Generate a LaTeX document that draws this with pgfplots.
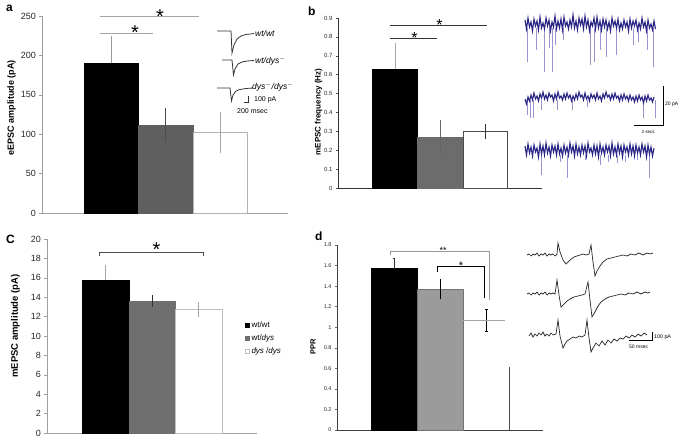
\documentclass[border=0pt]{standalone}
\usepackage{fontspec}
\setmainfont{Liberation Sans}
\usepackage{pgfplots}
\pgfplotsset{compat=1.18}

\definecolor{gA}{HTML}{5F5F5F}
\definecolor{gB}{HTML}{6C6C6C}
\definecolor{gC}{HTML}{6F6F6F}
\definecolor{gD}{HTML}{9B9B9B}
\definecolor{trB}{HTML}{2B2686}
\definecolor{spB}{HTML}{9894CF}

\newcommand\fs[1]{\fontsize{#1}{#1}\selectfont}

\pgfplotsset{
  panel/.style={scale only axis, axis x line=bottom, axis y line=left,
    axis line style={-}, xtick=\empty, tick align=outside,
    major tick length=2.5pt, clip=false,
    /pgf/number format/assume math mode=true, /pgf/number format/fixed},
  barp/.style={ybar, bar shift=0pt,
    legend image code/.code={\draw[##1, line width=0.5pt] (0pt,-2.2pt) rectangle (4.4pt,2.2pt);}},
}

\begin{document}
\begin{tikzpicture}
\useasboundingbox (0,0) rectangle (685pt,442pt);

% ---- a: eEPSC amplitude
\begin{axis}[panel, at={(42pt,229pt)}, anchor=south west,
  width=246pt, height=197pt, xmin=42, xmax=288, ymin=0, ymax=250,
  ytick={0,50,100,150,200,250},
  tick label style={font=\fs{9}, text=black!85},
  axis line style={gray!75, line width=0.6pt}, ytick style={gray!75, line width=0.5pt}]
\addplot[barp, bar width=54, fill=black, draw=black,
  error bars/.cd, y dir=plus, y explicit, error bar style={gray!80, line width=0.6pt}, error mark=none]
  coordinates {(111,190) +- (0,34)};
\addplot[barp, bar width=55, fill=gA, draw=gA,
  error bars/.cd, y dir=both, y explicit, error bar style={black!70, line width=0.6pt}, error mark=none]
  coordinates {(165.5,112) +- (0,21.5)};
\addplot[barp, bar width=54, fill=white, draw=gray!60,
  error bars/.cd, y dir=both, y explicit, error bar style={gray!70, line width=0.6pt}, error mark=none]
  coordinates {(220,102) +- (0,26)};
\end{axis}

% ---- b: mEPSC frequency
\begin{axis}[panel, at={(338pt,254pt)}, anchor=south west,
  width=204pt, height=170pt, xmin=338, xmax=542, ymin=0, ymax=0.9,
  ytick={0,0.1,0.2,0.3,0.4,0.5,0.6,0.7,0.8,0.9},
  tick label style={font=\fs{6}, text=black!85},
  axis line style={black!80, line width=0.6pt}, ytick style={black!70, line width=0.4pt},
  major tick length=2pt]
\addplot[barp, bar width=45, fill=black, draw=black,
  error bars/.cd, y dir=plus, y explicit, error bar style={gray!70, line width=0.5pt}, error mark=none]
  coordinates {(395,0.63) +- (0,0.14)};
\addplot[barp, bar width=46, fill=gB, draw=gB,
  error bars/.cd, y dir=both, y explicit, error bar style={black!60, line width=0.5pt}, error mark=none]
  coordinates {(440,0.27) +- (0,0.09)};
\addplot[barp, bar width=44, fill=white, draw=black!70,
  error bars/.cd, y dir=both, y explicit, error bar style={black!80, line width=0.6pt}, error mark=none]
  coordinates {(485,0.30) +- (0,0.04)};
\end{axis}

% ---- c: mEPSC amplitude
\begin{axis}[panel, at={(47pt,9pt)}, anchor=south west,
  width=210pt, height=194pt, xmin=47, xmax=257, ymin=0, ymax=20,
  ytick={0,2,4,6,8,10,12,14,16,18,20},
  tick label style={font=\fs{9}, text=black!85},
  axis line style={gray!75, line width=0.6pt}, ytick style={gray!75, line width=0.5pt},
  legend style={at={(0.94,0.585)}, anchor=north west, draw=none, fill=none,
    font=\fs{8}, inner sep=0pt, row sep=1.5pt,
    /tikz/every even column/.append style={column sep=3pt}},
  legend cell align=left]
\addplot[barp, bar width=47, fill=black, draw=black,
  error bars/.cd, y dir=plus, y explicit, error bar style={gray!70, line width=0.5pt}, error mark=none]
  coordinates {(105.5,15.8) +- (0,1.5)};
\addplot[barp, bar width=46, fill=gC, draw=gC,
  error bars/.cd, y dir=both, y explicit, error bar style={black!80, line width=0.5pt}, error mark=none]
  coordinates {(152,13.6) +- (0,0.65)};
\addplot[barp, bar width=47, fill=white, draw=gray!50,
  error bars/.cd, y dir=both, y explicit, error bar style={gray!70, line width=0.5pt}, error mark=none]
  coordinates {(198.5,12.75) +- (0,0.8)};
\legend{wt/wt, wt/\textit{dys}, \textit{dys} /\textit{dys}}
\end{axis}

% ---- d: PPR
\begin{axis}[panel, at={(337pt,12pt)}, anchor=south west,
  width=206pt, height=185pt, xmin=337, xmax=543, ymin=0, ymax=1.8,
  ytick={0,0.2,0.4,0.6,0.8,1,1.2,1.4,1.6,1.8},
  tick label style={font=\fs{5.5}, text=black!85},
  axis line style={black!75, line width=0.6pt}, ytick style={black!60, line width=0.4pt},
  major tick length=2pt]
\addplot[barp, bar width=46, fill=black, draw=black,
  error bars/.cd, y dir=plus, y explicit, error bar style={black!80, line width=0.7pt},
  error mark options={rotate=90, mark size=1.3pt}]
  coordinates {(394,1.57) +- (0,0.1)};
\addplot[barp, bar width=46, fill=gD, draw=black!55,
  error bars/.cd, y dir=both, y explicit, error bar style={black, line width=0.8pt}, error mark=none]
  coordinates {(440,1.37) +- (0,0.1)};
\addplot[barp, bar width=42, fill=white, draw=none,
  error bars/.cd, y dir=both, y explicit, error bar style={draw=black, line width=0.7pt},
  error mark options={draw=black, rotate=90, mark size=1.5pt}]
  coordinates {(486,1.07) +- (0,0.11)};
\addplot[gray!70, line width=0.6pt] coordinates {(463,1.07) (505,1.07)};
\addplot[black!70, line width=0.7pt] coordinates {(509,0) (509,0.61)};
\end{axis}

% ---- overlay in picture pixels (y downwards): marks, traces, text
\begin{axis}[at={(0pt,0pt)}, anchor=south west, scale only axis,
  width=685pt, height=442pt, xmin=0, xmax=685, ymin=0, ymax=442,
  y dir=reverse, hide axis, clip=false, unbounded coords=jump]

% panel letters
\node[font=\fs{12}\bfseries, anchor=base west, inner sep=0pt] at (axis cs:6,12) {a};
\node[font=\fs{12}\bfseries, anchor=base west, inner sep=0pt] at (axis cs:308,15) {b};
\node[font=\fs{12}\bfseries, anchor=base west, inner sep=0pt] at (axis cs:6,243) {C};
\node[font=\fs{12}\bfseries, anchor=base west, inner sep=0pt] at (axis cs:315,240) {d};

% y labels
\node[font=\fs{9}\bfseries, rotate=90, inner sep=0pt] at (axis cs:11.5,108) {eEPSC amplitude (pA)};
\node[font=\fs{8}\bfseries, rotate=90, inner sep=0pt] at (axis cs:318.5,112) {mEPSC frequency (Hz)};
\node[font=\fs{9.5}\bfseries, rotate=90, inner sep=0pt] at (axis cs:15.5,326) {mEPSC amplitude (pA)};
\node[font=\fs{7.5}\bfseries, rotate=90, inner sep=0pt] at (axis cs:313,347) {PPR};

% a: significance
\addplot[gray!70, line width=0.7pt] coordinates {(100,16) (199,16)};
\addplot[gray!70, line width=0.7pt] coordinates {(100,33) (153,33)};
\node[font=\fs{20}, anchor=base, inner sep=0pt] at (axis cs:160,23.5) {*};
\node[font=\fs{20}, anchor=base, inner sep=0pt] at (axis cs:135,39) {*};

% a: example eEPSC traces
\addplot[black!80, line width=0.8pt] coordinates {(217,31) (231,31) (232,53) (234,45) (237,39) (241,36) (246,34.5) (254,33.5)};
\addplot[black!80, line width=0.8pt] coordinates {(222,60) (232,60) (233.5,75) (235,69) (238,64) (242,62) (247,61) (254,60.5)};
\addplot[black!80, line width=0.8pt] coordinates {(217,88) (230,88) (231.5,101) (233,95) (236,91) (240,89.5) (246,88.5) (253,88)};
\addplot[black!80, line width=0.6pt] coordinates {(244,102) (248,102) (248,96)};
\node[font=\fs{8.5}\itshape, anchor=west, inner sep=0pt] at (axis cs:255,33) {wt/wt};
\node[font=\fs{8.5}\itshape, anchor=west, inner sep=0pt] at (axis cs:255,61) {wt/dys$^{-}$};
\node[font=\fs{8.5}\itshape, anchor=west, inner sep=0pt] at (axis cs:252,87) {dys$^{-}$/dys$^{-}$};
\node[font=\fs{7}, anchor=west, inner sep=0pt] at (axis cs:254,99.5) {100 pA};
\node[font=\fs{7}, anchor=west, inner sep=0pt] at (axis cs:237,111.5) {200 msec};

% b: significance
\addplot[black!80, line width=0.6pt] coordinates {(390,25) (487,25)};
\addplot[black!80, line width=0.6pt] coordinates {(390,38) (437,38)};
\node[font=\fs{16}, anchor=base, inner sep=0pt] at (axis cs:439.5,30.5) {*};
\node[font=\fs{16}, anchor=base, inner sep=0pt] at (axis cs:414.5,43) {*};

% b: mEPSC recordings
\addplot[spB, line width=0.5pt] coordinates {
 (527,28) (527,62) (527,nan) (536,28) (536,50) (536,nan) (544,28) (544,72) (544,nan)
 (549,28) (549,48) (549,nan) (552,28) (552,72) (552,nan) (555,28) (555,45) (555,nan)
 (563,28) (563,40) (563,nan) (590,28) (590,65) (590,nan) (594,28) (594,62) (594,nan)
 (600,28) (600,50) (600,nan) (606,28) (606,57) (606,nan) (616,28) (616,55) (616,nan)
 (633,28) (633,45) (633,nan) (638,28) (638,42) (638,nan) (647,28) (647,50) (647,nan)
 (653,28) (653,67)};
\addplot[trB, line width=1.1pt] table[row sep=\\, header=false, x expr={525+1.5*\coordindex}, y index=0] {
20\\29\\18\\27\\22\\31\\19\\26\\21\\30\\17\\28\\23\\29\\18\\26\\20\\31\\22\\27\\
16\\29\\21\\28\\19\\30\\17\\26\\22\\29\\20\\27\\15\\28\\21\\30\\18\\25\\19\\29\\
16\\27\\20\\31\\22\\26\\18\\29\\17\\28\\21\\30\\19\\27\\20\\29\\22\\31\\18\\26\\
21\\28\\19\\30\\23\\29\\20\\27\\22\\31\\19\\28\\21\\26\\20\\30\\23\\29\\18\\27\\
22\\31\\20\\28\\24\\30\\21\\29\\};
\addplot[spB, line width=0.5pt] coordinates {
 (527,100) (527,115) (527,nan) (530,100) (530,118) (530,nan) (533,100) (533,118) (533,nan)
 (541,100) (541,110) (541,nan) (557,100) (557,110) (557,nan) (572,100) (572,110) (572,nan)
 (587,100) (587,107) (587,nan) (643,100) (643,118) (643,nan) (655,100) (655,118)};
\addplot[trB, line width=1.1pt] table[row sep=\\, header=false, x expr={525+1.5*\coordindex}, y index=0] {
99\\104\\97\\101\\95\\100\\93\\99\\96\\101\\94\\98\\92\\99\\95\\100\\93\\97\\95\\101\\
94\\99\\92\\98\\96\\100\\94\\99\\93\\98\\95\\101\\96\\100\\94\\99\\92\\97\\95\\100\\
93\\99\\96\\101\\94\\98\\95\\100\\93\\99\\96\\101\\94\\98\\92\\97\\95\\100\\94\\99\\
93\\98\\96\\101\\95\\100\\94\\99\\96\\101\\95\\100\\97\\102\\96\\101\\95\\100\\97\\103\\
96\\101\\95\\100\\98\\102\\97\\};
\addplot[spB, line width=0.5pt] coordinates {
 (541,155) (541,175) (541,nan) (560,155) (560,162) (560,nan) (567,155) (567,178) (567,nan)
 (585,155) (585,160) (585,nan) (600,155) (600,165) (600,nan) (608,155) (608,162) (608,nan)
 (617,155) (617,163) (617,nan) (625,155) (625,162) (625,nan) (637,155) (637,160) (637,nan)
 (649,155) (649,178)};
\addplot[trB, line width=1.1pt] table[row sep=\\, header=false, x expr={525+1.5*\coordindex}, y index=0] {
146\\155\\144\\153\\147\\156\\145\\152\\148\\157\\144\\154\\146\\155\\143\\153\\147\\156\\145\\152\\
146\\155\\144\\154\\148\\156\\145\\153\\147\\155\\143\\152\\146\\156\\144\\154\\147\\155\\145\\153\\
146\\156\\143\\152\\148\\155\\145\\154\\146\\157\\144\\153\\147\\155\\145\\152\\146\\156\\143\\154\\
147\\155\\144\\153\\146\\157\\145\\152\\147\\155\\144\\154\\146\\156\\145\\153\\147\\155\\144\\152\\
146\\157\\145\\154\\147\\156\\148\\};
\addplot[black, line width=0.7pt] coordinates {(634,125) (663,125) (663,86)};
\node[font=\fs{5}, anchor=west, inner sep=0pt] at (axis cs:665,104) {20 pA};
\node[font=\fs{4.5}, inner sep=0pt] at (axis cs:648,132) {2 secs};

% c: significance
\addplot[black!70, line width=0.7pt] coordinates {(99,256) (99,252) (203,252) (203,256)};
\node[font=\fs{20}, anchor=base, inner sep=0pt] at (axis cs:156.5,256) {*};

% d: significance
\addplot[gray!80, line width=0.6pt] coordinates {(390,255) (390,251) (489,251) (489,300)};
\addplot[black, line width=0.9pt] coordinates {(437,272) (437,266) (484,266) (484,298)};
\node[font=\fs{9}, anchor=base, inner sep=0pt] at (axis cs:443,253.2) {**};
\node[font=\fs{11}, anchor=base, inner sep=0pt] at (axis cs:461,269.3) {*};

% d: paired-pulse recordings
\addplot[black!85, line width=0.7pt] coordinates {
 (527,255) (529,254) (531,256) (533,254) (535,255) (537,253) (539,256) (541,254) (543,255)
 (545,253) (547,256) (549,254) (551,255) (553,254) (555,256) (557,254) (558,243) (560,252)
 (563,260) (566,264) (568,262) (571,259) (574,257) (577,256) (580,255) (583,254) (586,255)
 (589,254) (591,245) (593,262) (595,276) (597,271) (600,266) (603,262) (607,259) (611,258)
 (615,257) (619,256) (623,255) (627,256) (631,254) (635,255) (639,253) (643,255) (647,253)
 (650,254) (653,253)};
\addplot[black!85, line width=0.7pt] coordinates {
 (527,294) (529,293) (531,295) (533,293) (535,294) (537,292) (539,295) (541,293) (543,294)
 (545,292) (547,295) (549,293) (551,294) (553,293) (555,294) (557,280) (559,295) (561,307)
 (564,304) (567,301) (570,299) (574,297) (578,296) (582,295) (585,294) (588,282) (590,300)
 (592,317) (595,312) (598,306) (601,302) (605,299) (609,297) (613,296) (617,295) (621,294)
 (625,295) (629,293) (633,294) (637,292) (641,294) (645,292) (648,293) (650,292)};
\addplot[black!85, line width=0.7pt] coordinates {
 (529,336) (531,333) (533,337) (535,334) (537,336) (539,333) (541,335) (543,332) (545,336)
 (547,334) (549,336) (551,333) (553,335) (556,334) (558,320) (560,336) (563,348) (565,344)
 (567,341) (570,339) (573,337) (576,338) (579,336) (582,337) (585,335) (587,320) (589,338)
 (591,352) (593,348) (596,343) (599,346) (602,341) (605,345) (608,340) (611,343) (614,339)
 (617,341) (620,338) (623,339) (626,336) (629,338) (632,335) (635,337) (638,334) (641,336)
 (644,333) (647,335)};
\addplot[black, line width=0.6pt] coordinates {(629,340) (652,340) (652,332)};
\node[font=\fs{5.3}, anchor=west, inner sep=0pt] at (axis cs:654,337) {100 pA};
\node[font=\fs{5}, anchor=west, inner sep=0pt] at (axis cs:629,347) {50 msec};
\end{axis}
\end{tikzpicture}
\end{document}
